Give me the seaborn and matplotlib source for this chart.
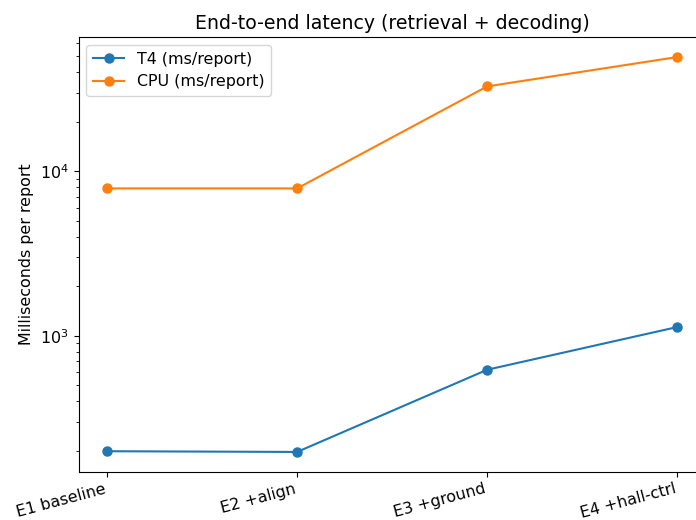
import pandas as pd
import seaborn as sns
import matplotlib
matplotlib.use("Agg")
import matplotlib.pyplot as plt

stages = ["E1 baseline", "E2 +align", "E3 +ground", "E4 +hall-ctrl"]
t4_ms = [199, 197, 622, 1130]
cpu_ms = [7850, 7850, 32700, 49300]

df = pd.DataFrame({"stage": stages, "T4": t4_ms, "CPU": cpu_ms})

plt.rcParams["font.size"] = 11.4  # reference text is a bit larger than default

fig = plt.figure(figsize=(6.96, 5.2), dpi=100)
ax = fig.add_axes([0.1128, 0.0929, 0.9013, 0.8354])

sns.lineplot(data=df, x="stage", y="T4", marker="o", color="#1f77b4", sort=False,
             markersize=6.5, markeredgewidth=1, markeredgecolor="#1f77b4",
             label="T4 (ms/report)", ax=ax)
sns.lineplot(data=df, x="stage", y="CPU", marker="o", color="#ff7f0e", sort=False,
             markersize=6.5, markeredgewidth=1, markeredgecolor="#ff7f0e",
             label="CPU (ms/report)", ax=ax)

ax.set_yscale("log")
ax.set_xlabel("")
ax.set_ylabel("Milliseconds per report")
ax.set_title("End-to-end latency (retrieval + decoding)", fontsize=13.6)
plt.setp(ax.get_xticklabels(), rotation=15, ha="right")
ax.legend(loc="upper left")

fig.savefig("out.png", dpi=100)
